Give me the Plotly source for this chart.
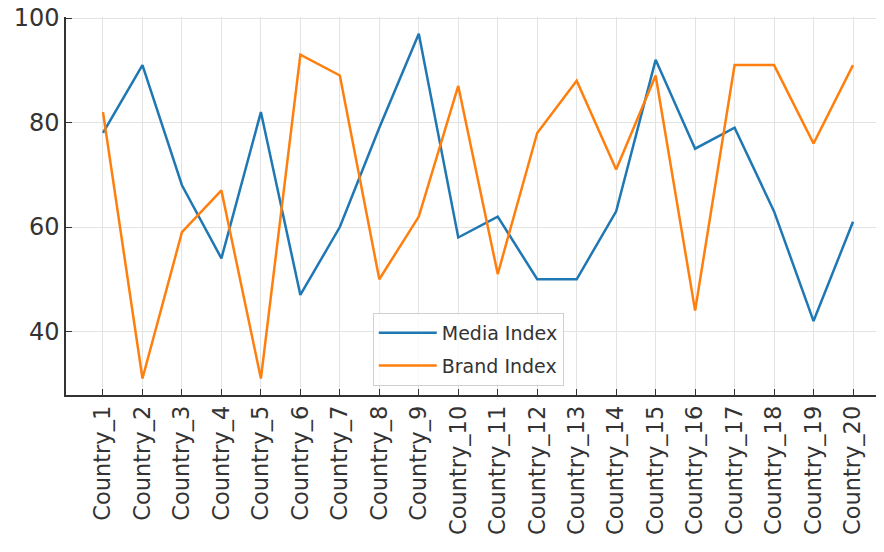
import plotly.graph_objects as go

countries = [f"Country_{i}" for i in range(1, 21)]
media_index = [78, 91, 68, 54, 82, 47, 60, 79, 97, 58, 62, 50, 50, 63, 92, 75, 79, 63, 42, 61]
brand_index = [82, 31, 59, 67, 31, 93, 89, 50, 62, 87, 51, 78, 88, 71, 89, 44, 91, 91, 76, 91]

fig = go.Figure()
fig.add_trace(go.Scatter(x=countries, y=media_index, mode="lines", name="Media Index",
                         legendgroup="m", line=dict(color="#1f77b4", width=2.5)))
fig.add_trace(go.Scatter(x=countries, y=brand_index, mode="lines", name="Brand Index",
                         legendgroup="b", line=dict(color="#ff7f0e", width=2.5)))

font = "DejaVu Sans, Liberation Sans, sans-serif"
fig.update_layout(
    width=884, height=552,
    margin=dict(l=58, r=8, t=9, b=165, autoexpand=False),
    paper_bgcolor="white", plot_bgcolor="white",
    font=dict(family=font, color="#333333"),
    showlegend=True,
    legend=dict(x=0.375, y=0.217, xanchor="left", yanchor="top",
                bgcolor="rgba(255,255,255,0.8)", bordercolor="#d0d0d0", borderwidth=1,
                tracegroupgap=5, itemwidth=58,
                font=dict(size=19, color="#333333")),
)
fig.update_xaxes(
    range=[-0.937, 19.785], tickangle=-90, automargin=False,
    tickfont=dict(size=22.5, color="#333333"),
    showgrid=True, gridcolor="#e3e3e3", gridwidth=1,
    showline=True, linecolor="#333333", linewidth=1.5,
    ticks="inside", ticklen=6, tickcolor="#333333", zeroline=False,
)
fig.update_yaxes(
    range=[27.85, 100.2], tickvals=[40, 60, 80, 100], automargin=False,
    ticklabeloverflow="allow",
    tickfont=dict(size=24, color="#333333"),
    showgrid=True, gridcolor="#e3e3e3", gridwidth=1,
    showline=True, linecolor="#333333", linewidth=1.5,
    ticks="inside", ticklen=6, tickcolor="#333333", zeroline=False,
)
fig.write_html("out.html")
